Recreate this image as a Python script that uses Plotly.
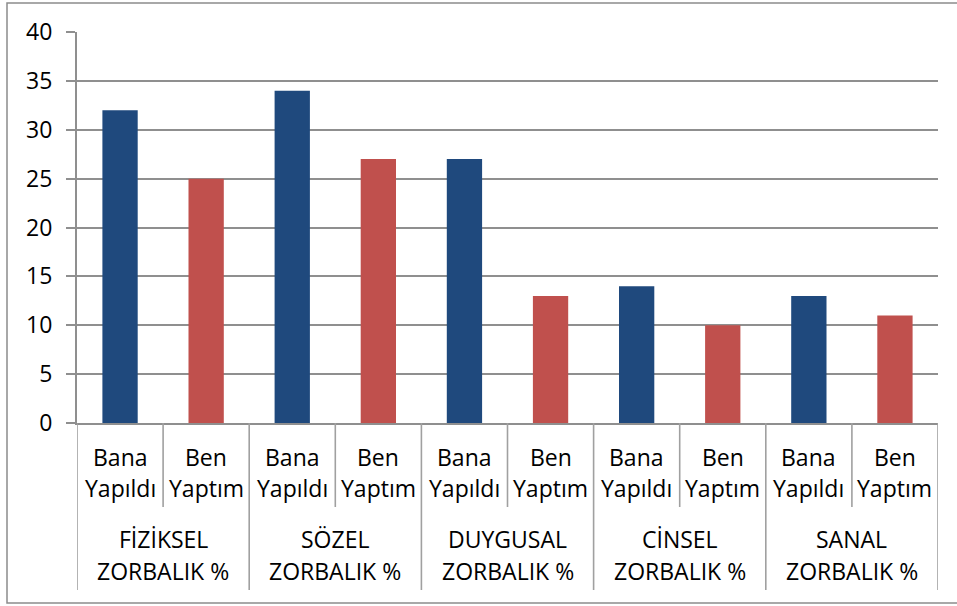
import plotly.graph_objects as go

# ---- data ----
groups = ["FİZİKSEL<br>ZORBALIK %", "SÖZEL<br>ZORBALIK %", "DUYGUSAL<br>ZORBALIK %",
          "CİNSEL<br>ZORBALIK %", "SANAL<br>ZORBALIK %"]
series_names = ["Bana Yapıldı", "Ben Yaptım"]
sub_labels = [("Bana", "Yapıldı"), ("Ben", "Yaptım")]
bana_yapildi = [32, 34, 27, 14, 13]
ben_yaptim = [25, 27, 13, 10, 11]
y_ticks = [0, 5, 10, 15, 20, 25, 30, 35, 40]

# ---- styling / geometry ----
W, H = 957, 606
L, R, T, B = 77, 938, 32, 423   # plot area in pixels
FONT = "Open Sans"
FS = 23
BLUE = "#1F497D"
RED = "#C0504D"
GRID = "#8f8f8f"
DIV = "#a0a0a0"

def px_x(px):
    return (px - L) / (R - L)

def px_y(py):
    return (B - py) / (B - T)

n_groups = len(groups)
x_bana = [2 * i for i in range(n_groups)]
x_ben = [2 * i + 1 for i in range(n_groups)]

fig = go.Figure()
fig.add_trace(go.Bar(x=x_bana, y=bana_yapildi, name=series_names[0],
                     marker=dict(color=BLUE, line=dict(width=0)), width=0.41))
fig.add_trace(go.Bar(x=x_ben, y=ben_yaptim, name=series_names[1],
                     marker=dict(color=RED, line=dict(width=0)), width=0.41))

shapes = []
# outer border
shapes.append(dict(type="rect", xref="paper", yref="paper",
                   x0=px_x(7), x1=px_x(960), y0=px_y(603), y1=px_y(3),
                   line=dict(color="#8c8c8c", width=1.5), fillcolor="rgba(0,0,0,0)", layer="below"))
# category divider lines
n_slots = 2 * n_groups
for k in range(n_slots + 1):
    xpos = k - 0.5
    is_group = (k % 2 == 0)
    shapes.append(dict(type="line", xref="x", yref="paper",
                       x0=xpos, x1=xpos, y0=px_y(423),
                       y1=px_y(590) if is_group else px_y(507),
                       line=dict(color=DIV, width=1.6)))

annotations = []
for g in range(n_groups):
    for s in range(2):
        xi = 2 * g + s
        annotations.append(dict(x=xi, xref="x", y=px_y(456.5), yref="paper",
                                text=sub_labels[s][0], showarrow=False,
                                font=dict(family=FONT, size=FS, color="black"),
                                xanchor="center", yanchor="middle"))
        annotations.append(dict(x=xi, xref="x", y=px_y(488), yref="paper",
                                text=sub_labels[s][1], showarrow=False,
                                font=dict(family=FONT, size=FS, color="black"),
                                xanchor="center", yanchor="middle"))
    top, bottom = groups[g].split("<br>")
    annotations.append(dict(x=2 * g + 0.5, xref="x", y=px_y(538.5), yref="paper",
                            text=top, showarrow=False,
                            font=dict(family=FONT, size=FS, color="black"),
                            xanchor="center", yanchor="middle"))
    annotations.append(dict(x=2 * g + 0.5, xref="x", y=px_y(570.5), yref="paper",
                            text=bottom, showarrow=False,
                            font=dict(family=FONT, size=FS, color="black"),
                            xanchor="center", yanchor="middle"))

fig.update_layout(
    width=W, height=H,
    margin=dict(l=L, r=W - R, t=T, b=H - B, pad=0, autoexpand=False),
    paper_bgcolor="white", plot_bgcolor="white",
    showlegend=False,
    barmode="overlay",
    font=dict(family=FONT, size=FS, color="black"),
    shapes=shapes,
    annotations=annotations,
    xaxis=dict(range=[-0.5, n_slots - 0.5], showticklabels=False, showgrid=False,
               zeroline=False, showline=True, linecolor=GRID, linewidth=2,
               ticks="", fixedrange=True),
    yaxis=dict(range=[0, 40], tickvals=y_ticks, ticktext=[str(v) for v in y_ticks],
               showgrid=True, gridcolor=GRID, gridwidth=2,
               zeroline=False, showline=True, linecolor=GRID, linewidth=2,
               ticks="outside", ticklen=9, tickwidth=2, tickcolor=GRID,
               ticklabelstandoff=9,
               tickfont=dict(family=FONT, size=FS, color="black"), fixedrange=True),
)

fig.write_html("out.html", config={"displayModeBar": False},
               post_script="document.body.style.margin='0';document.body.style.overflow='hidden';")
